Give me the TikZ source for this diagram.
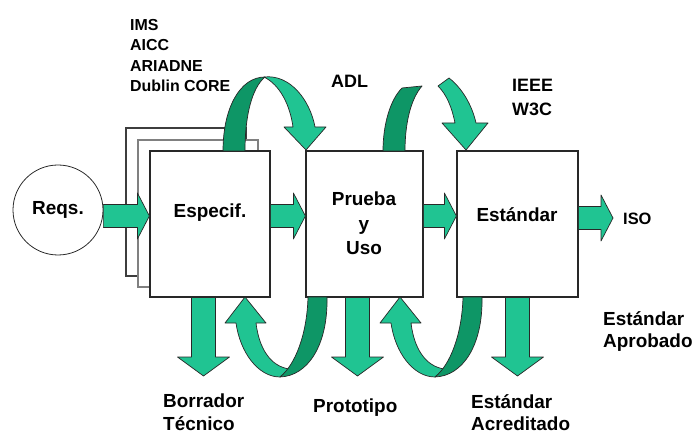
\documentclass[tikz,border=0pt]{standalone}
\usepackage{fontspec}
\setmainfont{Liberation Sans}
\usetikzlibrary{calc}

\definecolor{ribbon}{RGB}{32,196,146}
\definecolor{ribbondk}{RGB}{14,150,102}
\definecolor{edge}{RGB}{40,40,40}

\tikzset{stage/.style={draw=edge, line width=1.2pt, fill=white, inner sep=0pt},
  sheet/.style={draw=#1, line width=1.2pt, fill=white},
  flow/.style={fill=ribbon, draw=edge, line width=0.7pt, line join=round},
  flowdk/.style={fill=ribbondk, draw=edge, line width=0.7pt, line join=round},
  tag/.style={font=\bfseries\fontsize{19}{23}\selectfont, inner sep=0pt, anchor=base west, align=left},
  intag/.style={font=\bfseries\fontsize{19}{25}\selectfont, inner sep=0pt, anchor=base, align=center}}

% straight block arrows: tail, tip
\newcommand{\hflow}[2]{%
  \filldraw[flow] ($(#1)+(0,-11.5)$) -- ($(#2)+(-12,-11.5)$) -- ($(#2)+(-12,-23)$) -- (#2)
    -- ($(#2)+(-12,23)$) -- ($(#2)+(-12,11.5)$) -- ($(#1)+(0,11.5)$) -- cycle;}
\newcommand{\vflow}[2]{%
  \filldraw[flow] ($(#1)+(-12,0)$) -- ($(#2)+(-12,-19)$) -- ($(#2)+(-26,-19)$) -- (#2)
    -- ($(#2)+(26,-19)$) -- ($(#2)+(12,-19)$) -- ($(#1)+(12,0)$) -- cycle;}

\begin{document}
\begin{tikzpicture}[x=1bp, y=-1bp]
  \useasboundingbox (0,0) rectangle (698,434);
  % sheets behind the spec
  \draw[sheet=edge!90] (126,128) rectangle (246,276);
  \draw[sheet=gray] (138,140) rectangle (258,287);
  % blocks
  \node[draw=edge, line width=0.8pt, circle, minimum size=90bp, inner sep=0pt,
        font=\bfseries\fontsize{19}{23}\selectfont] (reqs) at (58,210) {Reqs.};
  \node[stage, minimum width=120bp, minimum height=146bp] (espec) at (210,224) {};
  \node[stage, minimum width=117bp, minimum height=146bp] (prueba) at (364.5,224) {};
  \node[stage, minimum width=121bp, minimum height=146bp] (estd) at (517.5,224) {};
  \node[intag] (especT) at (210,218) {Especif.};
  \node[intag] (pruebaT) at (364,255) {Prueba\\y\\Uso};
  \node[intag] (estdT) at (517,222) {Estándar};
  % straight arrows
  \coordinate (row) at (0,216);
  \coordinate (isoT) at (613,218);
  \coordinate (dn1) at (203.5,376);
  \coordinate (dn2) at (357.5,376);
  \coordinate (dn3) at (517.5,376);
  \hflow{reqs.east |- row}{espec.west |- row}
  \hflow{espec.east |- row}{prueba.west |- row}
  \hflow{prueba.east |- row}{estd.west |- row}
  \hflow{estd.east |- isoT}{isoT}
  \vflow{espec.south -| dn1}{dn1}
  \vflow{prueba.south -| dn2}{dn2}
  \vflow{estd.south -| dn3}{dn3}
  % loops over the top
  \filldraw[flowdk] (223,151) .. controls (223,108) and (240,77) .. (265,77)
    .. controls (252,88) and (245,115) .. (245,151) -- cycle;
  \filldraw[flow] (264,77) .. controls (290,74) and (310,100) .. (315,127) -- (326,127) -- (306,150)
    -- (284,127) -- (293,127) .. controls (290,105) and (280,85) .. (264,77) -- cycle;
  \filldraw[flowdk] (383,151) .. controls (383,125) and (390,100) .. (402,88) -- (422,86)
    .. controls (410,100) and (405,125) .. (405,151) -- cycle;
  \filldraw[flow] (438,86) -- (449,78) .. controls (462,88) and (472,105) .. (476,123) -- (488,123)
    -- (466,150) -- (442,123) -- (455,123) .. controls (452,108) and (447,95) .. (438,86) -- cycle;
  % loops underneath
  \foreach \dx in {0,155}{
    \begin{scope}[xshift=\dx bp]
      \filldraw[flow] (245,297) -- (266,323) -- (256,323) .. controls (259,348) and (270,366) .. (289,369)
        -- (280,377) .. controls (258,377) and (240,352) .. (236,323) -- (225,323) -- cycle;
      \filldraw[flowdk] (308,297) -- (327,297) .. controls (328,345) and (308,376) .. (280,377)
        .. controls (295,365) and (307,335) .. (308,297) -- cycle;
    \end{scope}}
  % labels
  \node[tag, font=\bfseries\fontsize{16}{20.7}\selectfont] (specs) at (130,92) {IMS\\AICC\\ARIADNE\\Dublin CORE};
  \node[tag, font=\bfseries\fontsize{18}{23}\selectfont] (adl) at (331,88) {ADL};
  \node[tag, font=\bfseries\fontsize{18}{25}\selectfont] (ieee) at (512,116) {IEEE\\W3C};
  \node[tag, font=\bfseries\fontsize{16.5}{20}\selectfont] (iso) at (623,225) {ISO};
  \node[tag] (aprob) at (603,348) {Estándar\\Aprobado};
  \node[tag] (borr) at (163,430) {Borrador\\Técnico};
  \node[tag] (proto) at (313,412) {Prototipo};
  \node[tag, font=\bfseries\fontsize{19}{22}\selectfont] (acred) at (471,430) {Estándar\\Acreditado};
\end{tikzpicture}
\end{document}
